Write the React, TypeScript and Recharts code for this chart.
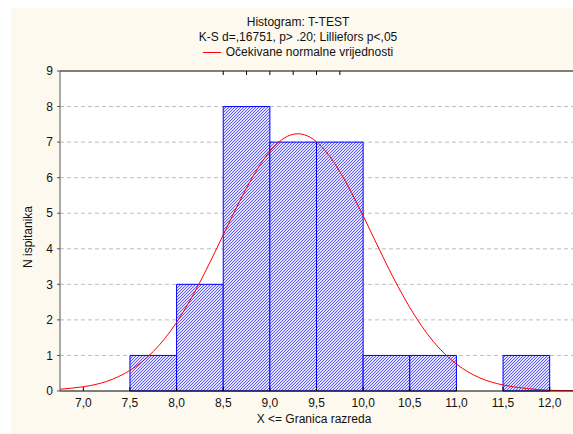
import {
  ComposedChart,
  Line,
  XAxis,
  YAxis,
  CartesianGrid,
  ReferenceArea,
} from "recharts";

// histogram classes (lower / upper bound) and counts
const binFrom = [7.5, 8.0, 8.5, 9.0, 9.5, 10.0, 10.5, 11.0, 11.5];
const binTo = [8.0, 8.5, 9.0, 9.5, 10.0, 10.5, 11.0, 11.5, 12.0];
const binCount = [1, 3, 8, 7, 7, 1, 1, 0, 1];

// expected normal curve
const curveX = [
  6.75, 7.0, 7.25, 7.5, 7.75, 8.0, 8.25, 8.5, 8.75, 9.0, 9.25, 9.5, 9.75,
  10.0, 10.25, 10.5, 10.75, 11.0, 11.25, 11.5, 11.75, 12.0, 12.25,
];
const curveY = [
  0.05, 0.12, 0.27, 0.58, 1.11, 1.93, 3.06, 4.39, 5.71, 6.74, 7.22, 7.01,
  6.17, 4.93, 3.57, 2.35, 1.4, 0.76, 0.37, 0.17, 0.07, 0.02, 0.01,
];

const xTicks = [7.0, 7.5, 8.0, 8.5, 9.0, 9.5, 10.0, 10.5, 11.0, 11.5, 12.0];
const yTicks = [0, 1, 2, 3, 4, 5, 6, 7, 8, 9];

const curve = curveX.map((x, i) => ({ x, y: curveY[i] }));

const FONT = "'Liberation Sans', Arial, sans-serif";
const CREAM = "#fdf9ef";

const fmt = (v: number) => v.toFixed(1).replace(".", ",");

export default function App() {
  return (
    <div
      style={{
        position: "absolute",
        left: 0,
        top: 0,
        width: 573,
        height: 434,
        background: "#fff",
        fontFamily: FONT,
        overflow: "hidden",
      }}
    >
      <div style={{ position: "absolute", left: 11, top: 8, right: 0, bottom: 0, background: CREAM }} />

      <ComposedChart
        width={573}
        height={434}
        data={curve}
        margin={{ top: 70, right: 0, bottom: 0, left: 0 }}
        style={{ position: "absolute", left: 0, top: 0 }}
      >
        <defs>
          <pattern id="hatch" patternUnits="userSpaceOnUse" width="3" height="3">
            <rect width="3" height="3" fill="#e2e2ff" />
            <path d="M-1,1 l2,-2 M0,3 l3,-3 M2,4 l2,-2" stroke="#4a4aff" strokeWidth="0.9" />
          </pattern>
        </defs>
        <CartesianGrid
          vertical={false}
          fill="#fff"
          stroke="#bdbdbd"
          strokeDasharray="4 3"
          horizontalValues={[1, 2, 3, 4, 5, 6, 7, 8]}
        />
        <XAxis
          dataKey="x"
          type="number"
          domain={[6.75, 12.25]}
          ticks={xTicks}
          tickFormatter={fmt}
          allowDataOverflow
          height={43}
          stroke="#000"
          tickSize={-4}
          tickMargin={11}
          tick={{ fill: "#111", fontSize: 12, fontFamily: FONT }}
        />
        <XAxis
          xAxisId="top"
          orientation="top"
          type="number"
          domain={[6.75, 12.25]}
          ticks={xTicks}
          allowDataOverflow
          height={1}
          stroke="#000"
          tickSize={-4}
          tick={() => <g />}
        />
        <YAxis
          type="number"
          domain={[0, 9]}
          ticks={yTicks}
          width={60}
          stroke="#555"
          tickSize={3}
          tickMargin={4}
          tick={{ fill: "#111", fontSize: 12, fontFamily: FONT }}
        />
        {binFrom.map((lo, i) =>
          binCount[i] > 0 ? (
            <ReferenceArea
              key={lo}
              x1={lo}
              x2={binTo[i]}
              y1={0}
              y2={binCount[i]}
              fill="url(#hatch)"
              fillOpacity={1}
              stroke="#0000ff"
              strokeWidth={1}
            />
          ) : null
        )}
        <Line
          dataKey="y"
          type="natural"
          stroke="#ff0000"
          strokeWidth={1}
          dot={false}
          isAnimationActive={false}
        />
      </ComposedChart>

      <div style={{ position: "absolute", left: 0, width: 596, top: 15, textAlign: "center", fontSize: 12, lineHeight: "15px", color: "#111" }}>
        <div>Histogram: T-TEST</div>
        <div>K-S d=,16751, p&gt; .20; Lilliefors p&lt;,05</div>
        <div style={{ display: "flex", justifyContent: "center", alignItems: "center" }}>
          <span style={{ display: "inline-block", width: 18, height: 1, background: "#ff0000", marginRight: 5 }} />
          <span>Očekivane normalne vrijednosti</span>
        </div>
      </div>

      <div style={{ position: "absolute", left: 214, width: 200, top: 412, textAlign: "center", fontSize: 12, color: "#111" }}>
        X &lt;= Granica razreda
      </div>

      <div
        style={{
          position: "absolute",
          left: 28,
          top: 237,
          transform: "translate(-50%, -50%) rotate(-90deg)",
          fontSize: 12,
          color: "#111",
          whiteSpace: "nowrap",
        }}
      >
        N ispitanika
      </div>
    </div>
  );
}
